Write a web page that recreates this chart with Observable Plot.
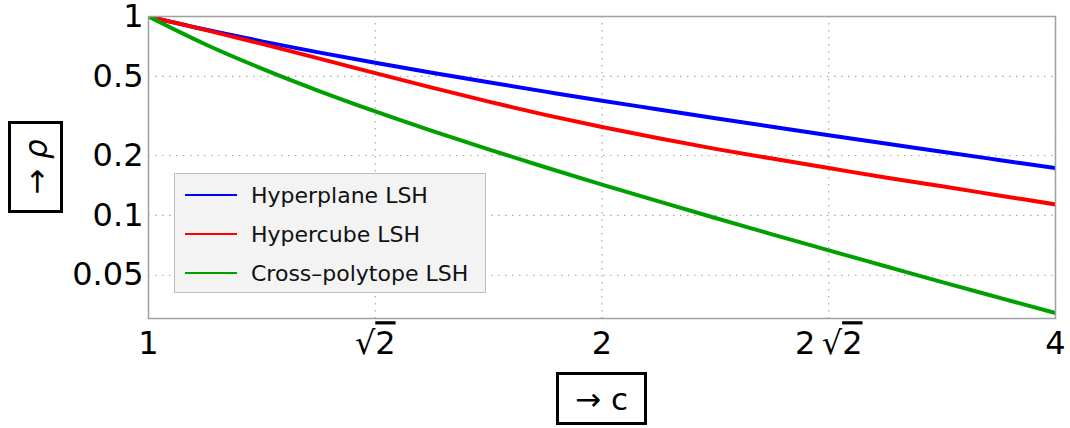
<!DOCTYPE html>
<html>
<head>
<meta charset="utf-8">
<script src="https://cdn.jsdelivr.net/npm/d3@7"></script>
<script src="https://cdn.jsdelivr.net/npm/@observablehq/plot@0.6"></script>
<style>
  html, body { margin: 0; padding: 0; background: white; }
  #wrap { position: relative; width: 1070px; height: 428px; font-family: "DejaVu Sans", sans-serif; overflow: hidden; }
  #chart svg { display: block; }
  .lblbox { position: absolute; border: 3px solid black; box-sizing: border-box; background: white;
            display: flex; align-items: center; justify-content: center; font-size: 31px; color: black; }
  #legend { position: absolute; left: 174px; top: 173px; width: 312px; height: 120px; box-sizing: border-box;
            background: #f3f3f3; border: 1.5px solid #bdbdbd; }
  .lrow { position: absolute; left: 0; height: 30px; display: flex; align-items: center; font-size: 22px; color: #111; }
  .lsw { width: 52px; height: 2.6px; margin-left: 10px; margin-right: 14px; }
</style>
</head>
<body>
<div id="wrap">
  <div id="chart"></div>
  <div id="legend"></div>
  <div class="lblbox" id="xlab" style="left:556px; top:372px; width:91px; height:53px;">→ c</div>
  <div class="lblbox" id="ylab" style="left:8px; top:121px; width:55px; height:92px;">
    <span style="display:inline-block; transform: rotate(-90deg); white-space:nowrap;">→ <i>ρ</i></span>
  </div>
</div>
<script>
// ---- data ----
const cValues = [1, 1.0905, 1.1892, 1.2968, 1.4142, 1.5422, 1.6818, 1.8340, 2, 2.1810, 2.3784, 2.5937, 2.8284, 3.0844, 3.3636, 3.6680, 4];
const hyperplane = [1, 0.860, 0.750, 0.660, 0.585, 0.521, 0.467, 0.419, 0.377, 0.341, 0.308, 0.279, 0.253, 0.230, 0.209, 0.190, 0.173];
const hypercube = [1, 0.856, 0.728, 0.616, 0.519, 0.439, 0.373, 0.320, 0.278, 0.244, 0.216, 0.193, 0.173, 0.155, 0.140, 0.126, 0.1135];
const crossPolytope = [1, 0.7255, 0.5469, 0.4231, 0.3333, 0.2662, 0.2147, 0.1746, 0.1429, 0.1175, 0.0970, 0.0803, 0.0667, 0.0555, 0.0462, 0.0386, 0.0323];
const seriesNames = ["Hyperplane LSH", "Hypercube LSH", "Cross–polytope LSH"];
const seriesColors = ["#0000ff", "#ff0000", "#00a000"];
const xTicks = [1, 1.41421356, 2, 2.82842712, 4];
const xTickLabels = ["1", "√2", "2", "2√2", "4"];
const yTicks = [1, 0.5, 0.2, 0.1, 0.05];
const yTickLabels = ["1", "0.5", "0.2", "0.1", "0.05"];
const yDomain = [0.0303, 1];

// ---- build ----
const allSeries = [hyperplane, hypercube, crossPolytope];
const rows = allSeries.map(vals => vals.map((v, i) => ({c: cValues[i], rho: v})));

const gridStyle = {stroke: "#a8a8a8", strokeOpacity: 1, strokeWidth: 1.2, strokeDasharray: "1.5,5.5"};

const plot = Plot.plot({
  width: 1070, height: 428,
  marginLeft: 148, marginRight: 15, marginTop: 16, marginBottom: 110,
  style: {fontFamily: "DejaVu Sans", background: "white", color: "black", overflow: "visible"},
  x: {type: "log", domain: [1, 4], label: null},
  y: {type: "log", domain: yDomain, label: null},
  marks: [
    Plot.gridX(xTicks, gridStyle),
    Plot.gridY(yTicks, gridStyle),
    ...rows.map((r, i) => Plot.line(r, {x: "c", y: "rho", stroke: seriesColors[i], strokeWidth: 4, curve: "catmull-rom", clip: true})),
    Plot.frame({stroke: "#a0a0a0", strokeWidth: 1.5}),
    Plot.axisX(xTicks, {tickSize: 0, tickPadding: 13, fontSize: 32,
      tickFormat: d => xTickLabels[xTicks.indexOf(d)]}),
    Plot.axisY(yTicks, {tickSize: 0, tickPadding: 5, fontSize: 32,
      tickFormat: d => yTickLabels[yTicks.indexOf(d)]})
  ]
});
document.getElementById("chart").appendChild(plot);

// radical overline on the sqrt labels
plot.querySelectorAll("text").forEach(t => {
  const s = t.textContent;
  if (s.includes("√")) {
    const [pre, post] = s.split("√");
    t.textContent = "";
    const ns = "http://www.w3.org/2000/svg";
    if (pre) { const a = document.createElementNS(ns, "tspan"); a.textContent = pre + "\u2009"; t.appendChild(a); }
    const b = document.createElementNS(ns, "tspan"); b.textContent = "√"; t.appendChild(b);
    const c = document.createElementNS(ns, "tspan"); c.textContent = post; c.setAttribute("text-decoration", "overline"); c.style.textDecoration = "overline"; t.appendChild(c);
  }
});

// legend
const leg = document.getElementById("legend");
const rowTops = [6, 45, 84];
seriesNames.forEach((n, i) => {
  const r = document.createElement("div");
  r.className = "lrow";
  r.style.top = rowTops[i] + "px";
  const sw = document.createElement("div");
  sw.className = "lsw";
  sw.style.background = seriesColors[i];
  const tx = document.createElement("span");
  tx.textContent = n;
  r.appendChild(sw); r.appendChild(tx);
  leg.appendChild(r);
});
</script>
</body>
</html>
